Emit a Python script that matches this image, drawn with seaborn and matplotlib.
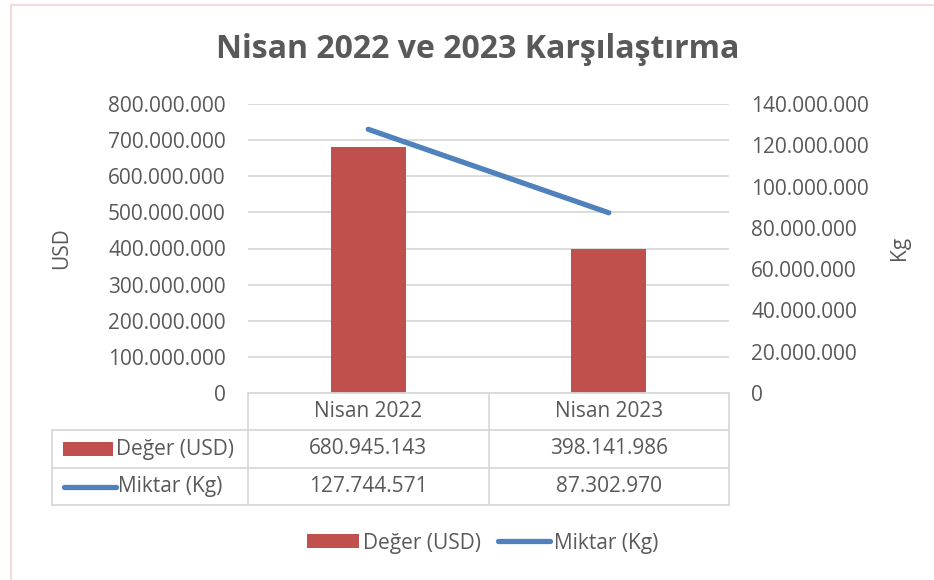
import numpy as np
import pandas as pd
import matplotlib
matplotlib.use("Agg")
import matplotlib.pyplot as plt
import matplotlib.transforms as mtransforms
from matplotlib.patches import Rectangle
from matplotlib.lines import Line2D
import seaborn as sns

# ---- data ----
categories = ["Nisan 2022", "Nisan 2023"]
usd_values = [680945143, 398141986]
kg_values = [127744571, 87302970]
series_names = ["Değer (USD)", "Miktar (Kg)"]
chart_title = "Nisan 2022 ve 2023 Karşılaştırma"
usd_ticks = [0, 100000000, 200000000, 300000000, 400000000, 500000000, 600000000, 700000000, 800000000]
kg_ticks = [0, 20000000, 40000000, 60000000, 80000000, 100000000, 120000000, 140000000]
usd_label = "USD"
kg_label = "Kg"

RED = "#C0504D"
BLUE = "#4F81BD"
GRID = "#D9D9D9"
TXT = "#595959"
FS = 15

sns.set_theme(style="white")
plt.rcParams['font.family'] = ['Open Sans', 'DejaVu Sans']


def fmt(v):
    return f"{v:,.0f}".replace(",", ".")


W, H = 934, 580
fig = plt.figure(figsize=(W / 100, H / 100), dpi=100)
fig.patch.set_facecolor("white")


def fx(px):
    return px / W


def fy(py):
    return 1 - py / H


# outer border
fig.add_artist(Rectangle((fx(11), fy(590)), fx(940) - fx(11), fy(5) - fy(590),
                         transform=fig.transFigure, fill=False,
                         edgecolor="#F2DCDB", lw=1.5))

ax = fig.add_axes([fx(248), fy(393), fx(729) - fx(248), fy(104) - fy(393)])
df = pd.DataFrame({"cat": categories, "usd": usd_values})
sns.barplot(data=df, x="cat", y="usd", color=RED, saturation=1, width=0.31,
            linewidth=0, ax=ax)
ax.set_xlim(-0.5, len(categories) - 0.5)
ax.set_ylim(usd_ticks[0], usd_ticks[-1])
ax.set_yticks(usd_ticks)
ax.set_yticklabels([fmt(v) for v in usd_ticks], color=TXT, fontsize=FS)
ax.tick_params(axis="y", length=0, pad=16)
ax.set_xticks([])
ax.set_xlabel("")
ax.set_ylabel("")
ax.yaxis.grid(True, color=GRID, lw=1.3)
ax.set_axisbelow(True)
for s in ax.spines.values():
    s.set_visible(False)

ax2 = ax.twinx()
sns.lineplot(x=np.arange(len(categories)), y=kg_values, ax=ax2, color=BLUE,
             lw=3.8, solid_capstyle="round", legend=False)
ax2.set_ylim(kg_ticks[0], kg_ticks[-1])
ax2.set_yticks(kg_ticks)
ax2.set_yticklabels([fmt(v) for v in kg_ticks], color=TXT, fontsize=FS)
ax2.tick_params(axis="y", length=0, pad=16)
ax2.grid(False)
for s in ax2.spines.values():
    s.set_visible(False)
ax2.set_ylabel("")

# axis titles
fig.text(fx(62), fy(248), usd_label, rotation=90, ha="center", va="center",
         color=TXT, fontsize=FS)
fig.text(fx(900), fy(248), kg_label, rotation=90, ha="center", va="center",
         color=TXT, fontsize=FS)

# title
fig.text(fx(478), fy(50), chart_title, ha="center", va="center", color=TXT,
         fontsize=23, fontweight="bold")

# ---- data table ----
bt = mtransforms.blended_transform_factory(ax.transData, fig.transFigure)
y_top, y_r1, y_r2, y_bot = 393, 430, 468, 505
x_tleft = 52
lkw = dict(color=GRID, lw=1.3)
# horizontal lines
fig.add_artist(Line2D([fx(248), fx(729)], [fy(y_top)] * 2, transform=fig.transFigure, **lkw))
for yy in (y_r1, y_r2, y_bot):
    fig.add_artist(Line2D([fx(x_tleft), fx(729)], [fy(yy)] * 2, transform=fig.transFigure, **lkw))
# vertical lines
for xd in [-0.5 + i for i in range(len(categories) + 1)]:
    fig.add_artist(Line2D([xd, xd], [fy(y_top), fy(y_bot)], transform=bt, **lkw))
fig.add_artist(Line2D([fx(x_tleft)] * 2, [fy(y_r1), fy(y_bot)], transform=fig.transFigure, **lkw))

# header + values
for i, c in enumerate(categories):
    fig.text(i, fy((y_top + y_r1) / 2), c, transform=bt, ha="center", va="center",
             color=TXT, fontsize=FS)
    fig.text(i, fy((y_r1 + y_r2) / 2), fmt(usd_values[i]), transform=bt,
             ha="center", va="center", color=TXT, fontsize=FS)
    fig.text(i, fy((y_r2 + y_bot) / 2), fmt(kg_values[i]), transform=bt,
             ha="center", va="center", color=TXT, fontsize=FS)

# row headers with keys
ym1 = (y_r1 + y_r2) / 2
ym2 = (y_r2 + y_bot) / 2
fig.add_artist(Rectangle((fx(63), fy(ym1 + 7)), fx(113) - fx(63), fy(ym1 - 7) - fy(ym1 + 7),
                         transform=fig.transFigure, color=RED, lw=0))
fig.text(fx(116), fy(ym1), series_names[0], ha="left", va="center", color=TXT, fontsize=FS)
fig.add_artist(Line2D([fx(64), fx(116)], [fy(ym2)] * 2, transform=fig.transFigure,
                      color=BLUE, lw=3.8, solid_capstyle="round"))
fig.text(fx(118), fy(ym2), series_names[1], ha="left", va="center", color=TXT, fontsize=FS)

# ---- legend ----
handles = [Rectangle((0, 0), 1, 1, color=RED, lw=0),
           Line2D([0], [0], color=BLUE, lw=3.8, solid_capstyle="round")]
leg = fig.legend(handles, series_names, loc="center", bbox_to_anchor=(fx(483), fy(543)),
                 ncol=2, frameon=False, fontsize=FS, handlelength=2.5,
                 handleheight=0.65, handletextpad=0.2, columnspacing=0.8)
for t in leg.get_texts():
    t.set_color(TXT)

fig.savefig("out.png", dpi=100, facecolor="white")
